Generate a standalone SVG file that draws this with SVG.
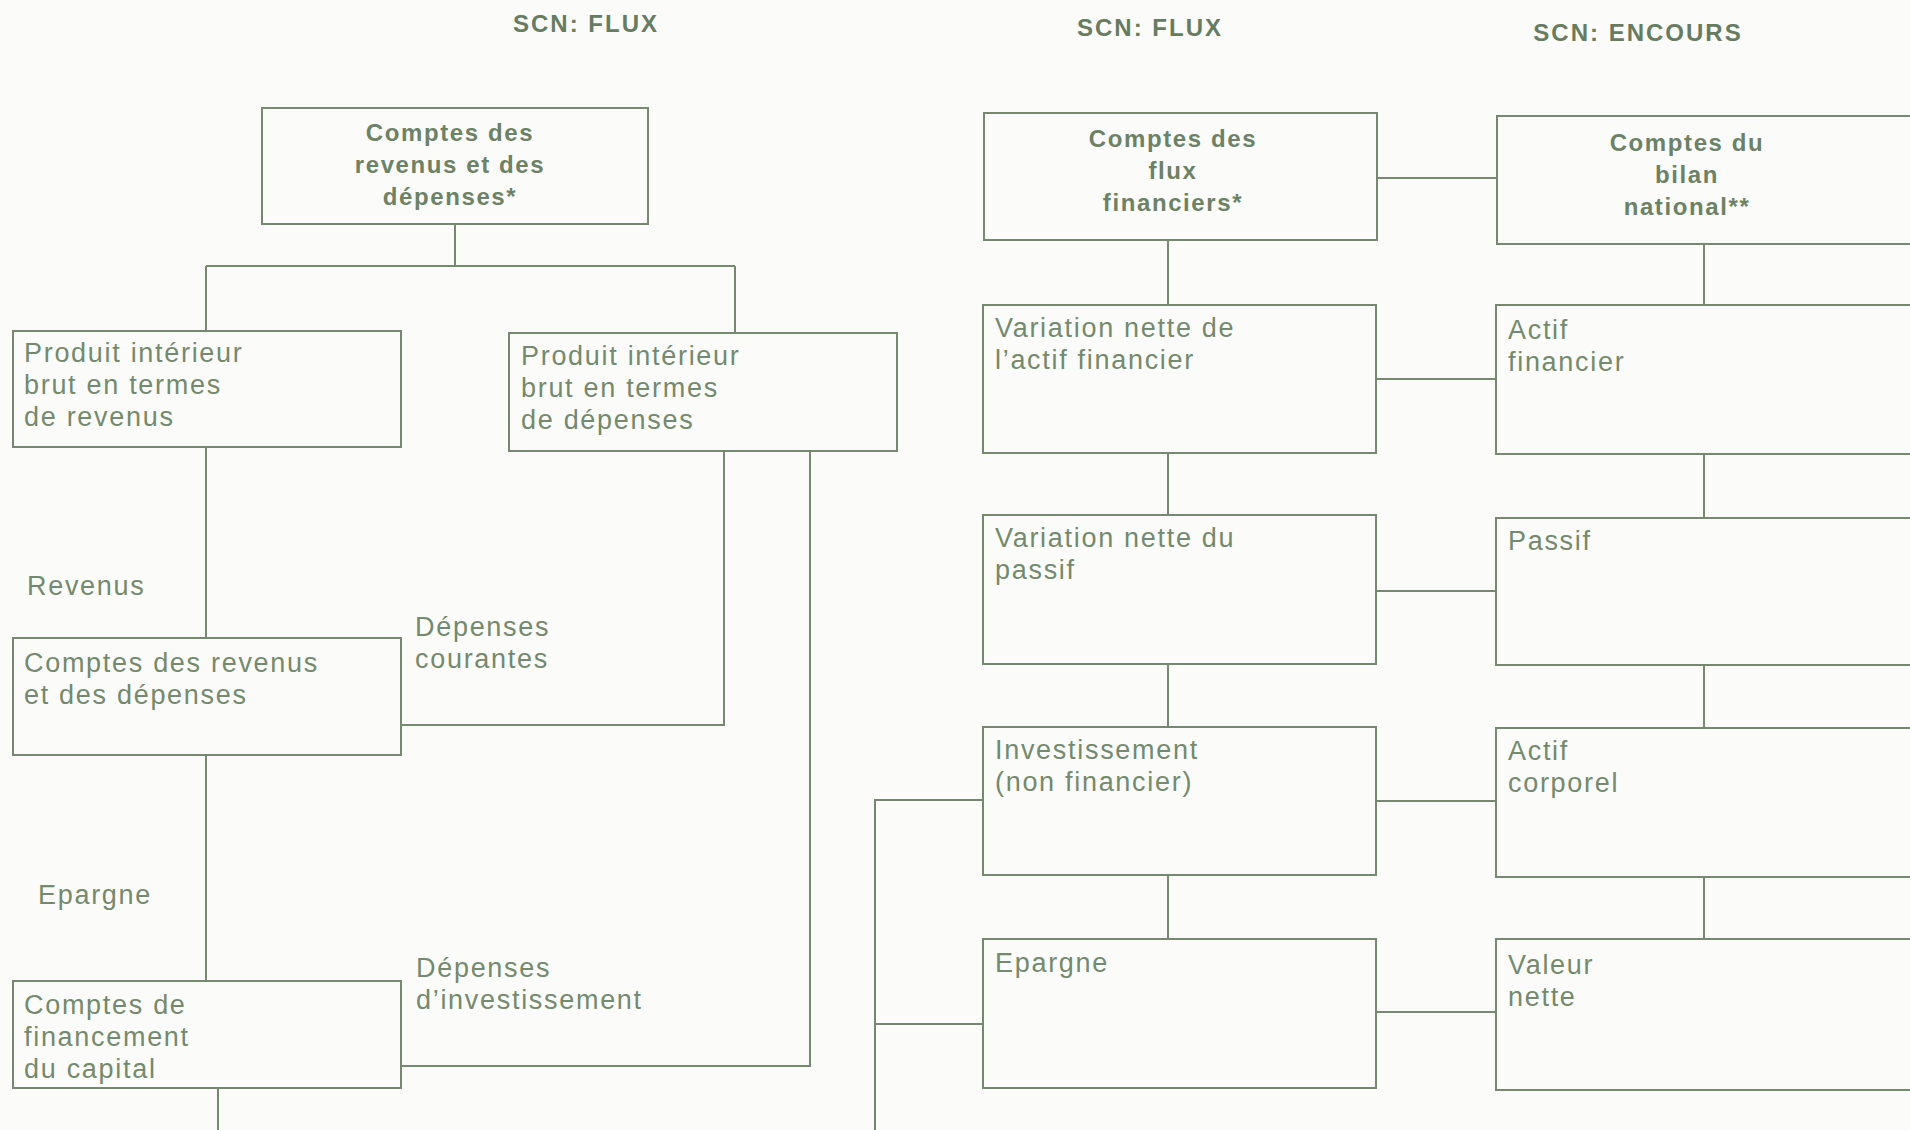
<svg xmlns="http://www.w3.org/2000/svg" width="1910" height="1130" viewBox="0 0 1910 1130">
<style>
.bg{fill:#fbfcfa}
.box{fill:none;stroke:#76886f;stroke-width:2}
.ln{fill:none;stroke:#76886f;stroke-width:2}
.t{font-family:"Liberation Sans",Arial,sans-serif;font-size:27px;letter-spacing:1.7px;fill:#74896d}
.b{font-family:"Liberation Sans",Arial,sans-serif;font-size:24px;font-weight:bold;letter-spacing:1.6px;fill:#6c8165;text-anchor:middle}
.h{font-family:"Liberation Sans",Arial,sans-serif;font-size:24px;font-weight:bold;letter-spacing:2px;fill:#667b60;text-anchor:middle}
</style>
<rect class="bg" x="0" y="0" width="1910" height="1130"/>
<g id="titles">
<text class="h" x="586" y="32">SCN: FLUX</text>
<text class="h" x="1150" y="36">SCN: FLUX</text>
<text class="h" x="1638" y="41">SCN: ENCOURS</text>
</g>
<g id="connectors">
<path class="ln" d="M455 224 V266 M206 266 H735 M206 266 V331 M735 266 V333"/>
<path class="ln" d="M206 447 V638"/>
<path class="ln" d="M724 451 V725 H401"/>
<path class="ln" d="M810 451 V1066 H401"/>
<path class="ln" d="M206 755 V981"/>
<path class="ln" d="M218 1088 V1130"/>
<path class="ln" d="M1168 240 V305 M1168 453 V515 M1168 664 V727 M1168 875 V939"/>
<path class="ln" d="M1704 244 V305 M1704 454 V518 M1704 665 V728 M1704 877 V939"/>
<path class="ln" d="M1377 178 H1497 M1376 379 H1496 M1376 591 H1496 M1376 801 H1496 M1376 1012 H1496"/>
<path class="ln" d="M875 1130 V800 H983 M875 1024 H983"/>
</g>
<g id="labels">
<text class="t" x="27" y="595">Revenus</text>
<text class="t" x="415" y="636">Dépenses</text>
<text class="t" x="415" y="668">courantes</text>
<text class="t" x="38" y="904">Epargne</text>
<text class="t" x="416" y="977">Dépenses</text>
<text class="t" x="416" y="1009">d’investissement</text>
</g>
<g id="node-comptes-revenus-depenses">
<rect class="box" x="262" y="108" width="386" height="116"/>
<text class="b" x="450" y="141">Comptes des</text>
<text class="b" x="450" y="173">revenus et des</text>
<text class="b" x="450" y="205">dépenses*</text>
</g>
<g id="node-pib-revenus">
<rect class="box" x="13" y="331" width="388" height="116"/>
<text class="t" x="24" y="362">Produit intérieur</text>
<text class="t" x="24" y="394">brut en termes</text>
<text class="t" x="24" y="426">de revenus</text>
</g>
<g id="node-pib-depenses">
<rect class="box" x="509" y="333" width="388" height="118"/>
<text class="t" x="521" y="365">Produit intérieur</text>
<text class="t" x="521" y="397">brut en termes</text>
<text class="t" x="521" y="429">de dépenses</text>
</g>
<g id="node-comptes-revenus">
<rect class="box" x="13" y="638" width="388" height="117"/>
<text class="t" x="24" y="672">Comptes des revenus</text>
<text class="t" x="24" y="704">et des dépenses</text>
</g>
<g id="node-financement-capital">
<rect class="box" x="13" y="981" width="388" height="107"/>
<text class="t" x="24" y="1014">Comptes de</text>
<text class="t" x="24" y="1046">financement</text>
<text class="t" x="24" y="1078">du capital</text>
</g>
<g id="node-flux-financiers">
<rect class="box" x="984" y="113" width="393" height="127"/>
<text class="b" x="1173" y="147">Comptes des</text>
<text class="b" x="1173" y="179">flux</text>
<text class="b" x="1173" y="211">financiers*</text>
</g>
<g id="node-var-actif">
<rect class="box" x="983" y="305" width="393" height="148"/>
<text class="t" x="995" y="337">Variation nette de</text>
<text class="t" x="995" y="369">l’actif financier</text>
</g>
<g id="node-var-passif">
<rect class="box" x="983" y="515" width="393" height="149"/>
<text class="t" x="995" y="547">Variation nette du</text>
<text class="t" x="995" y="579">passif</text>
</g>
<g id="node-investissement">
<rect class="box" x="983" y="727" width="393" height="148"/>
<text class="t" x="995" y="759">Investissement</text>
<text class="t" x="995" y="791">(non financier)</text>
</g>
<g id="node-epargne">
<rect class="box" x="983" y="939" width="393" height="149"/>
<text class="t" x="995" y="972">Epargne</text>
</g>
<g id="node-bilan">
<rect class="box" x="1497" y="116" width="440" height="128"/>
<text class="b" x="1687" y="151">Comptes du</text>
<text class="b" x="1687" y="183">bilan</text>
<text class="b" x="1687" y="215">national**</text>
</g>
<g id="node-actif-financier">
<rect class="box" x="1496" y="305" width="440" height="149"/>
<text class="t" x="1508" y="339">Actif</text>
<text class="t" x="1508" y="371">financier</text>
</g>
<g id="node-passif">
<rect class="box" x="1496" y="518" width="440" height="147"/>
<text class="t" x="1508" y="550">Passif</text>
</g>
<g id="node-actif-corporel">
<rect class="box" x="1496" y="728" width="440" height="149"/>
<text class="t" x="1508" y="760">Actif</text>
<text class="t" x="1508" y="792">corporel</text>
</g>
<g id="node-valeur-nette">
<rect class="box" x="1496" y="939" width="440" height="151"/>
<text class="t" x="1508" y="974">Valeur</text>
<text class="t" x="1508" y="1006">nette</text>
</g>
</svg>
